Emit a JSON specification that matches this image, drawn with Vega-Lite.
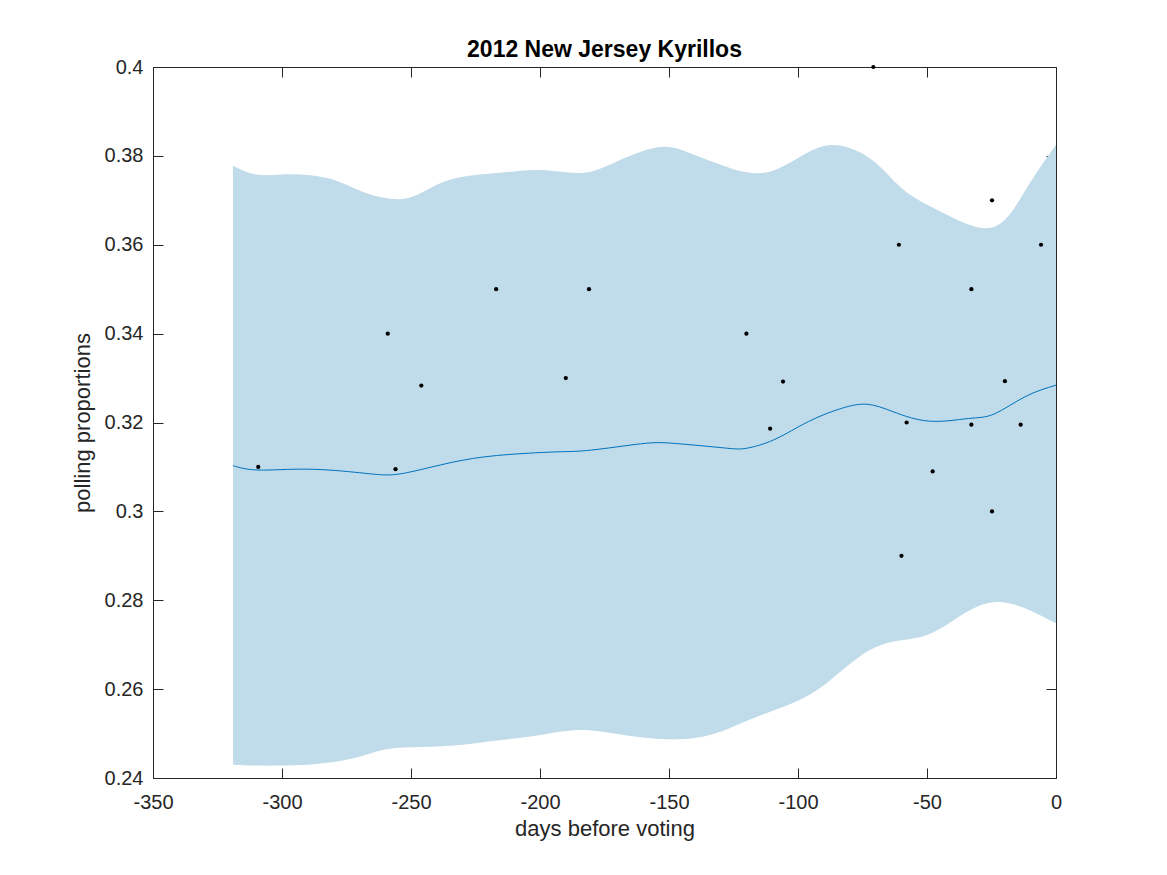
{
  "$schema": "https://vega.github.io/schema/vega-lite/v6.json",
  "description": "2012 New Jersey Kyrillos polling proportions with smoothed mean and band",
  "autosize": "none",
  "padding": {"left": 153, "top": 67, "right": 111, "bottom": 97},
  "width": 903,
  "height": 711,
  "title": {
    "text": "2012 New Jersey Kyrillos",
    "font": "Liberation Sans",
    "fontSize": 23,
    "fontWeight": "bold",
    "color": "black",
    "anchor": "middle",
    "offset": -5
  },
  "config": {
    "view": {"stroke": "#262626", "strokeWidth": 1},
    "axis": {
      "labelFont": "Liberation Sans",
      "labelFontSize": 20,
      "labelColor": "#262626",
      "titleFont": "Liberation Sans",
      "titleFontSize": 22,
      "titleFontWeight": "normal",
      "titleColor": "#262626",
      "tickColor": "#262626",
      "tickSize": -10,
      "domain": false,
      "grid": false
    }
  },
  "datasets": {
    "band": [
      {"day": -319, "lo": 0.2430, "hi": 0.3778},
      {"day": -310, "lo": 0.2428, "hi": 0.3758},
      {"day": -300, "lo": 0.2428, "hi": 0.3758},
      {"day": -290, "lo": 0.2430, "hi": 0.3757},
      {"day": -280, "lo": 0.2436, "hi": 0.3746},
      {"day": -270, "lo": 0.2448, "hi": 0.3722},
      {"day": -260, "lo": 0.2464, "hi": 0.3705},
      {"day": -250, "lo": 0.2469, "hi": 0.3707},
      {"day": -240, "lo": 0.2471, "hi": 0.3735},
      {"day": -230, "lo": 0.2475, "hi": 0.3753},
      {"day": -220, "lo": 0.2482, "hi": 0.3760},
      {"day": -210, "lo": 0.2489, "hi": 0.3765},
      {"day": -200, "lo": 0.2497, "hi": 0.3768},
      {"day": -190, "lo": 0.2506, "hi": 0.3763},
      {"day": -180, "lo": 0.2507, "hi": 0.3765},
      {"day": -170, "lo": 0.2499, "hi": 0.3788},
      {"day": -160, "lo": 0.2491, "hi": 0.3811},
      {"day": -150, "lo": 0.2487, "hi": 0.3820},
      {"day": -140, "lo": 0.2490, "hi": 0.3802},
      {"day": -130, "lo": 0.2504, "hi": 0.3780},
      {"day": -120, "lo": 0.2528, "hi": 0.3763},
      {"day": -110, "lo": 0.2551, "hi": 0.3766},
      {"day": -100, "lo": 0.2574, "hi": 0.3795},
      {"day": -90, "lo": 0.2609, "hi": 0.3822},
      {"day": -80, "lo": 0.2656, "hi": 0.3818},
      {"day": -70, "lo": 0.2694, "hi": 0.3785},
      {"day": -60, "lo": 0.2710, "hi": 0.3728},
      {"day": -50, "lo": 0.2722, "hi": 0.3690},
      {"day": -40, "lo": 0.2754, "hi": 0.3661},
      {"day": -30, "lo": 0.2787, "hi": 0.3639},
      {"day": -20, "lo": 0.2795, "hi": 0.3655},
      {"day": -10, "lo": 0.2777, "hi": 0.3740},
      {"day": 0, "lo": 0.2748, "hi": 0.3825}
    ],
    "mean": [
      {"day": -319, "value": 0.3103},
      {"day": -309, "value": 0.3093},
      {"day": -290, "value": 0.3095},
      {"day": -270, "value": 0.3087},
      {"day": -260, "value": 0.3082},
      {"day": -250, "value": 0.3089},
      {"day": -231, "value": 0.3114},
      {"day": -212, "value": 0.3128},
      {"day": -193, "value": 0.3134},
      {"day": -180, "value": 0.3138},
      {"day": -161, "value": 0.3152},
      {"day": -148, "value": 0.3153},
      {"day": -129, "value": 0.3143},
      {"day": -120, "value": 0.3142},
      {"day": -109, "value": 0.3162},
      {"day": -96, "value": 0.3202},
      {"day": -83, "value": 0.3232},
      {"day": -73, "value": 0.3241},
      {"day": -63, "value": 0.3224},
      {"day": -49, "value": 0.3203},
      {"day": -34, "value": 0.3209},
      {"day": -24, "value": 0.3219},
      {"day": -12, "value": 0.3258},
      {"day": 0, "value": 0.3284}
    ],
    "polls": [
      {"day": -309.2, "value": 0.31},
      {"day": -259, "value": 0.34},
      {"day": -256, "value": 0.3095},
      {"day": -246, "value": 0.3283},
      {"day": -217, "value": 0.35},
      {"day": -190, "value": 0.33},
      {"day": -181, "value": 0.35},
      {"day": -120, "value": 0.34},
      {"day": -110.8, "value": 0.3186},
      {"day": -105.8, "value": 0.3292},
      {"day": -70.8, "value": 0.4},
      {"day": -60.9, "value": 0.36},
      {"day": -59.9, "value": 0.29},
      {"day": -57.9, "value": 0.32},
      {"day": -47.8, "value": 0.309},
      {"day": -32.8, "value": 0.35},
      {"day": -32.8, "value": 0.3195},
      {"day": -24.8, "value": 0.37},
      {"day": -24.8, "value": 0.3},
      {"day": -19.8, "value": 0.3293},
      {"day": -13.7, "value": 0.3195},
      {"day": -5.8, "value": 0.36}
    ]
  },
  "resolve": {"axis": {"x": "independent", "y": "independent"}},
  "layer": [
    {
      "data": {"name": "band"},
      "mark": {"type": "area", "color": "#c0dbe9", "opacity": 1, "interpolate": "natural"},
      "encoding": {
        "x": {
          "field": "day",
          "type": "quantitative",
          "scale": {"domain": [-350, 0], "nice": false, "zero": false},
          "axis": {
            "orient": "bottom",
            "title": "days before voting",
            "values": [-350, -300, -250, -200, -150, -100, -50, 0],
            "labelExpr": "replace(datum.label, '\u2212', '-')",
            "labelPadding": 24,
            "titlePadding": 6,
            "labelFlush": false
          }
        },
        "y": {
          "field": "lo",
          "type": "quantitative",
          "scale": {"domain": [0.24, 0.4], "nice": false, "zero": false},
          "axis": {
            "orient": "left",
            "title": "polling proportions",
            "values": [0.24, 0.26, 0.28, 0.3, 0.32, 0.34, 0.36, 0.38, 0.4],
            "format": "~g",
            "labelPadding": 20,
            "titlePadding": 10,
            "labelFlush": false
          }
        },
        "y2": {"field": "hi"}
      }
    },
    {
      "data": {"name": "mean"},
      "mark": {"type": "line", "color": "#0072bd", "strokeWidth": 1, "interpolate": "natural"},
      "encoding": {
        "x": {"field": "day", "type": "quantitative", "axis": null},
        "y": {"field": "value", "type": "quantitative", "axis": null}
      }
    },
    {
      "data": {"name": "polls"},
      "mark": {"type": "point", "filled": true, "color": "black", "opacity": 1, "size": 18, "clip": false},
      "encoding": {
        "x": {
          "field": "day",
          "type": "quantitative",
          "axis": {
            "orient": "top",
            "title": null,
            "labels": false,
            "values": [-350, -300, -250, -200, -150, -100, -50, 0]
          }
        },
        "y": {
          "field": "value",
          "type": "quantitative",
          "axis": {
            "orient": "right",
            "title": null,
            "labels": false,
            "values": [0.24, 0.26, 0.28, 0.3, 0.32, 0.34, 0.36, 0.38, 0.4]
          }
        }
      }
    }
  ]
}
